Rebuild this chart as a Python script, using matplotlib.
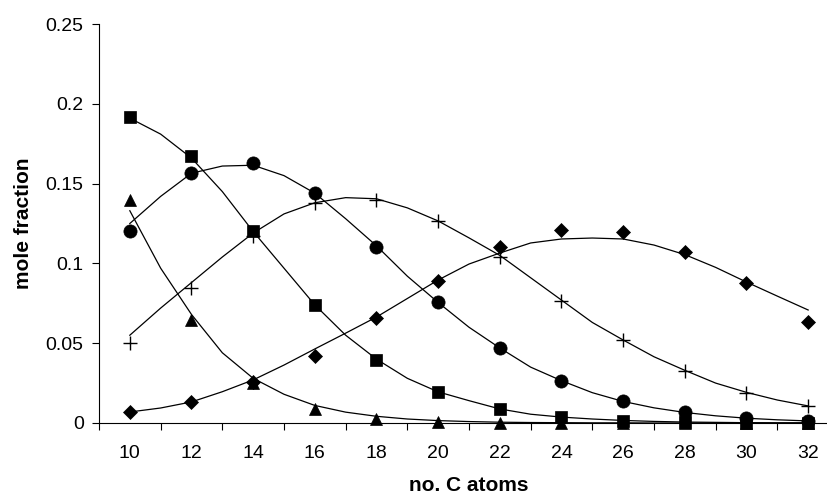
import matplotlib
matplotlib.use("Agg")
import matplotlib.pyplot as plt
from matplotlib.ticker import FixedLocator

plt.rcParams["font.family"] = ["Liberation Sans", "DejaVu Sans"]

# measured points, one per carbon number
carbons = [10, 12, 14, 16, 18, 20, 22, 24, 26, 28, 30, 32]
squares = [0.192, 0.167, 0.120, 0.0739, 0.0395, 0.0194, 0.0088, 0.0038, 0.0012, 0.0005, 0.0002, 0.0001]
triangles = [0.140, 0.0645, 0.025, 0.0088, 0.0025, 0.0006, 0.0002, 0.0, 0.0, 0.0, 0.0, 0.0]
circles = [0.120, 0.1566, 0.163, 0.144, 0.110, 0.0757, 0.047, 0.0263, 0.0138, 0.0072, 0.003, 0.001]
pluses = [0.050, 0.0846, 0.117, 0.138, 0.140, 0.1266, 0.104, 0.0766, 0.052, 0.0327, 0.019, 0.0106]
diamonds = [0.0069, 0.0133, 0.026, 0.042, 0.0657, 0.0889, 0.110, 0.121, 0.1195, 0.107, 0.0876, 0.0635]

fit_c = list(range(10, 33))
square_fit = [0.191, 0.181, 0.166, 0.145, 0.120, 0.097, 0.074, 0.055, 0.040, 0.028, 0.0195, 0.014,
              0.0088, 0.0055, 0.0037, 0.0025, 0.0016, 0.001, 0.0006, 0.0004, 0.0002, 0.0001, 0.0001]
triangle_fit = [0.133, 0.097, 0.068, 0.044, 0.028, 0.018, 0.011, 0.0068, 0.0042, 0.0025, 0.0015, 0.0009,
                0.0005, 0.0003, 0.0002, 0.0001, 0.0001, 0.0, 0.0, 0.0, 0.0, 0.0, 0.0]
circle_fit = [0.125, 0.142, 0.1565, 0.161, 0.1615, 0.155, 0.144, 0.128, 0.111, 0.092, 0.0755, 0.060,
              0.047, 0.035, 0.0265, 0.019, 0.0135, 0.0095, 0.0066, 0.0045, 0.003, 0.002, 0.0013]
plus_fit = [0.055, 0.072, 0.088, 0.104, 0.119, 0.131, 0.138, 0.1412, 0.1405, 0.1348, 0.1266, 0.116,
            0.105, 0.091, 0.077, 0.063, 0.052, 0.0415, 0.033, 0.025, 0.0192, 0.0144, 0.0107]
diamond_fit = [0.0069, 0.0094, 0.0132, 0.0196, 0.027, 0.0363, 0.0464, 0.0563, 0.0664, 0.078, 0.0896, 0.0996,
               0.1065, 0.1128, 0.1153, 0.1159, 0.1153, 0.1115, 0.1055, 0.0975, 0.0883, 0.0795, 0.0708]

y_ticks = [0, 0.05, 0.1, 0.15, 0.2, 0.25]
y_labels = ["0", "0.05", "0.1", "0.15", "0.2", "0.25"]

series = [
    (squares, square_fit, "s", 9),
    (triangles, triangle_fit, "^", 9),
    (circles, circle_fit, "o", 9.5),
    (pluses, plus_fit, "+", 10),
    (diamonds, diamond_fit, "D", 7.2),
]

fig = plt.figure(figsize=(8.27, 4.97), dpi=100)
ax = fig.add_axes([0.1197, 0.1489, 0.8948, 0.8028])

for pts, fit, mk, ms in series:
    ax.plot(fit_c, fit, color="black", linewidth=0.9, zorder=2)
    ax.plot(carbons, pts, linestyle="none", marker=mk, markersize=ms, color="black",
            markeredgewidth=1.0 if mk == "+" else 0.5, clip_on=False, zorder=3)

ax.set_xlim(9, 33)
ax.set_ylim(0, 0.25)
ax.yaxis.set_major_locator(FixedLocator(y_ticks))
ax.set_yticklabels(y_labels)

ax.xaxis.set_major_locator(FixedLocator(carbons))
ax.set_xticklabels([str(c) for c in carbons])
ax.xaxis.set_minor_locator(FixedLocator(list(range(9, 34, 2))))
ax.tick_params(axis="x", which="major", length=0, pad=16, labelsize=14)
ax.tick_params(axis="x", which="minor", length=5, width=0.8, direction="out")
ax.tick_params(axis="y", length=5, width=0.8, direction="out", pad=6, labelsize=14)

for side in ["top", "right"]:
    ax.spines[side].set_visible(False)
ax.spines["left"].set_linewidth(0.8)
ax.spines["bottom"].set_linewidth(0.8)

ax.set_xlabel("no. C atoms", fontsize=15, fontweight="bold", labelpad=10)
ax.set_ylabel("mole fraction", fontsize=15, fontweight="bold", labelpad=9)

fig.savefig("out.png", dpi=100)
